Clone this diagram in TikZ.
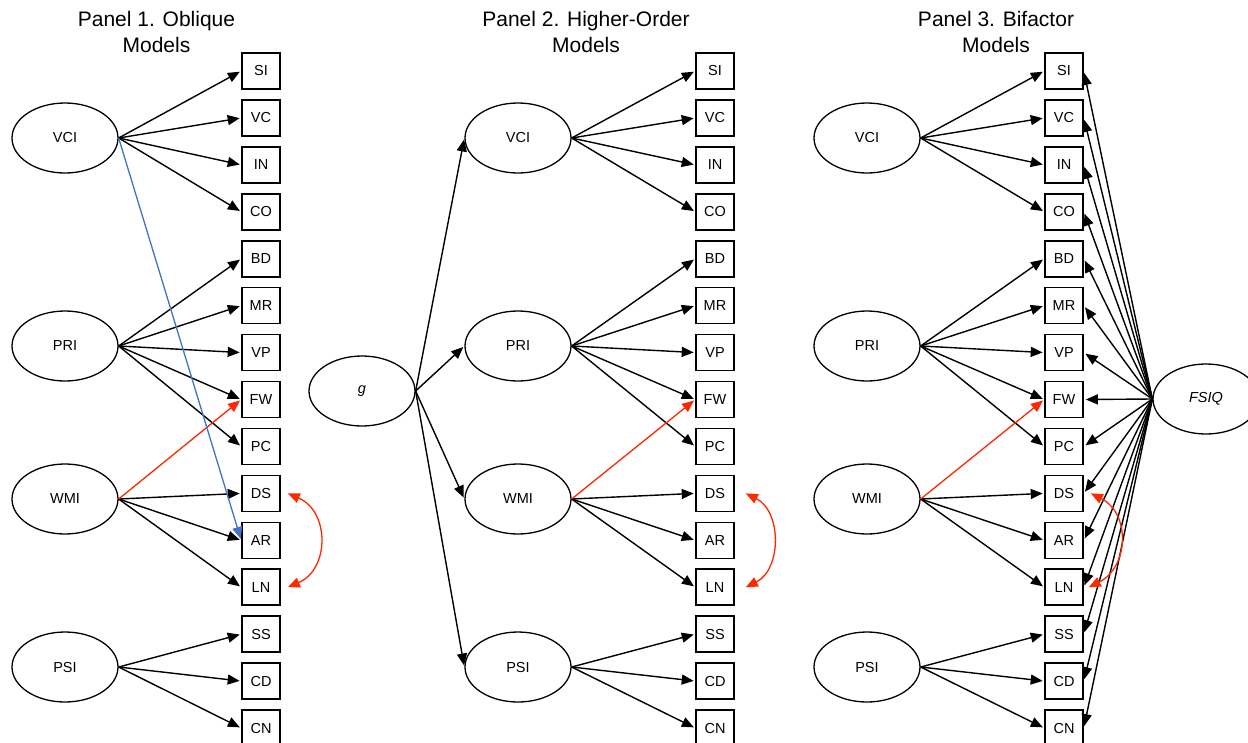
\documentclass[tikz,border=0pt]{standalone}
\usepackage{fontspec}
\setmainfont{Liberation Sans}
\usetikzlibrary{arrows.meta,shapes.geometric}

\definecolor{corr}{RGB}{255,40,0}
\definecolor{cross}{RGB}{68,114,196}

\begin{document}
\begin{tikzpicture}[x=1pt,y=-1pt,
  lat/.style={ellipse, draw, line width=1.3pt, minimum width=106pt,
    minimum height=70pt, inner sep=0pt, font=\fontsize{14.5}{16}\selectfont},
  obs/.style={rectangle, draw, line width=1.6pt, minimum width=38pt,
    minimum height=36pt, inner sep=0pt, font=\fontsize{14.5}{16}\selectfont},
  tip/.style={-{Triangle[length=12pt,width=10pt]}},
  load/.style={tip, line width=1.4pt, shorten >=1.5pt},
  gload/.style={load, shorten >=2pt},
  redload/.style={load, draw=corr, fill=corr, line width=1.3pt},
  blueload/.style={load, draw=cross, fill=cross, line width=1.3pt},
  resid/.style={{Triangle[length=12pt,width=10pt]}-{Triangle[length=12pt,width=10pt]},
    draw=corr, line width=1.3pt},
  ttl/.style={align=center, inner sep=0pt, anchor=north,
    font=\fontsize{21}{25.5}\selectfont}
]
\useasboundingbox (0,0) rectangle (1248,742);

% panel titles
\node[ttl] (t1) at (156.5,11.5) {Panel 1. Oblique\\Models};
\node[ttl] (t2) at (586,11.5) {Panel 2. Higher-Order\\Models};
\node[ttl] (t3) at (996,11.5) {Panel 3. Bifactor\\Models};

% indicator columns (a = oblique, b = higher-order, c = bifactor)
\foreach \n [count=\i from 0] in {SI,VC,IN,CO,BD,MR,VP,FW,PC,DS,AR,LN,SS,CD,CN} {
  \node[obs] (a\n) at (261,71+46.93*\i) {\n};
  \node[obs] (b\n) at (715,71+46.93*\i) {\n};
  \node[obs] (c\n) at (1064,71+46.93*\i) {\n};
}

% first-order factors
\foreach \p/\x in {a/65,b/518,c/867} {
  \node[lat] (\p VCI) at (\x,138) {VCI};
  \node[lat] (\p PRI) at (\x,346) {PRI};
  \node[lat] (\p WMI) at (\x,499) {WMI};
  \node[lat] (\p PSI) at (\x,667) {PSI};
}

% general factors
\node[lat] (g) at (362,391) {\itshape g};
\node[lat] (fsiq) at (1206,399) {\itshape FSIQ};

% factor loadings
\foreach \p in {a,b,c} {
  \foreach \m in {SI,VC,IN,CO} \draw[load] (\p VCI.east) -- (\p\m.west);
  \foreach \m in {BD,MR,VP,FW,PC} \draw[load] (\p PRI.east) -- (\p\m.west);
  \foreach \m in {DS,AR,LN} \draw[load] (\p WMI.east) -- (\p\m.west);
  \foreach \m in {SS,CD,CN} \draw[load] (\p PSI.east) -- (\p\m.west);
  \draw[redload] (\p WMI.east) -- (\p FW.west);
}

% cross-loading in the oblique model
\draw[blueload] (aVCI.east) -- (aAR.west);

% higher-order loadings
\foreach \f in {VCI,PRI,WMI,PSI} \draw[load] (g.east) -- (b\f.west);

% bifactor general loadings
\foreach \m in {SI,VC,IN,CO,BD,MR,VP,FW,PC,DS,AR,LN,SS,CD,CN}
  \draw[gload] (fsiq.west) -- (c\m.east);

% correlated residuals DS <-> LN
\draw[resid] ([xshift=7pt]aDS.east) .. controls +(42,18) and +(42,-18) .. ([xshift=7pt]aLN.east);
\draw[resid] ([xshift=11pt]bDS.east) .. controls +(36,18) and +(36,-18) .. ([xshift=11pt]bLN.east);
\draw[resid] ([xshift=7pt]cDS.east) .. controls +(40,20) and +(40,-20) .. ([xshift=5pt]cLN.east);
\end{tikzpicture}
\end{document}
